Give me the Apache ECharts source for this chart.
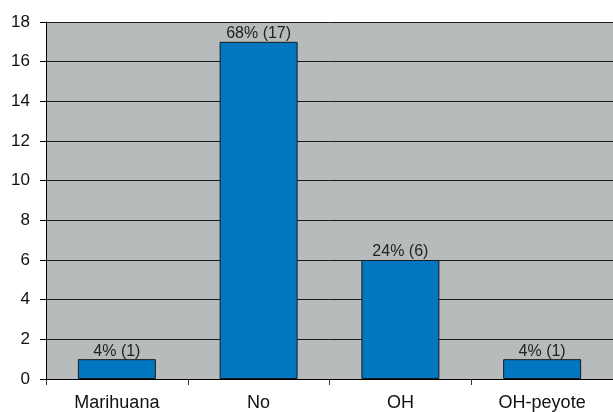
<!DOCTYPE html>
<html>
<head>
<meta charset="utf-8">
<script src="https://cdn.jsdelivr.net/npm/echarts@6/dist/echarts.min.js"></script>
<style>
  html, body { margin: 0; padding: 0; background: #fff; }
  #chart { width: 613px; height: 412px; }
</style>
</head>
<body>
<div id="chart"></div>
<script>
var categories = ['Marihuana', 'No', 'OH', 'OH-peyote']
var counts = [1, 17, 6, 1]
var percents = ['4%', '68%', '24%', '4%']
var yTicks = [0, 2, 4, 6, 8, 10, 12, 14, 16, 18]

var chart = echarts.init(document.getElementById('chart'))

var option = {
  backgroundColor: '#ffffff',
  animation: false,
  grid: {
    left: 46,
    right: 0,
    top: 22,
    bottom: 33,
    show: true,
    backgroundColor: '#b8bbbb',
    borderWidth: 0
  },
  xAxis: {
    type: 'category',
    data: categories,
    axisLine: { lineStyle: { color: '#000', width: 1 } },
    axisTick: { show: true, length: 6, lineStyle: { color: '#333' } },
    axisLabel: {
      color: '#111',
      fontFamily: 'Liberation Sans, Arial, sans-serif',
      fontSize: 18,
      margin: 15
    }
  },
  yAxis: {
    type: 'value',
    min: yTicks[0],
    max: yTicks[yTicks.length - 1],
    interval: 2,
    axisLine: { show: true, lineStyle: { color: '#000', width: 1 } },
    axisTick: { show: true, length: 6, lineStyle: { color: '#000' } },
    splitLine: { show: true, lineStyle: { color: '#1a1a1a', width: 1 } },
    axisLabel: {
      color: '#111',
      fontFamily: 'Liberation Sans, Arial, sans-serif',
      fontSize: 17,
      margin: 16
    }
  },
  series: [{
    type: 'bar',
    data: counts,
    barWidth: 78,
    itemStyle: {
      color: '#0077c0',
      borderColor: '#1a1a1a',
      borderWidth: 1
    },
    label: {
      show: true,
      position: 'top',
      distance: 0,
      color: '#222',
      fontFamily: 'Liberation Sans, Arial, sans-serif',
      fontSize: 16,
      formatter: function (p) {
        return percents[p.dataIndex] + ' (' + p.value + ')'
      }
    }
  }]
}

chart.setOption(option)
</script>
</body>
</html>
